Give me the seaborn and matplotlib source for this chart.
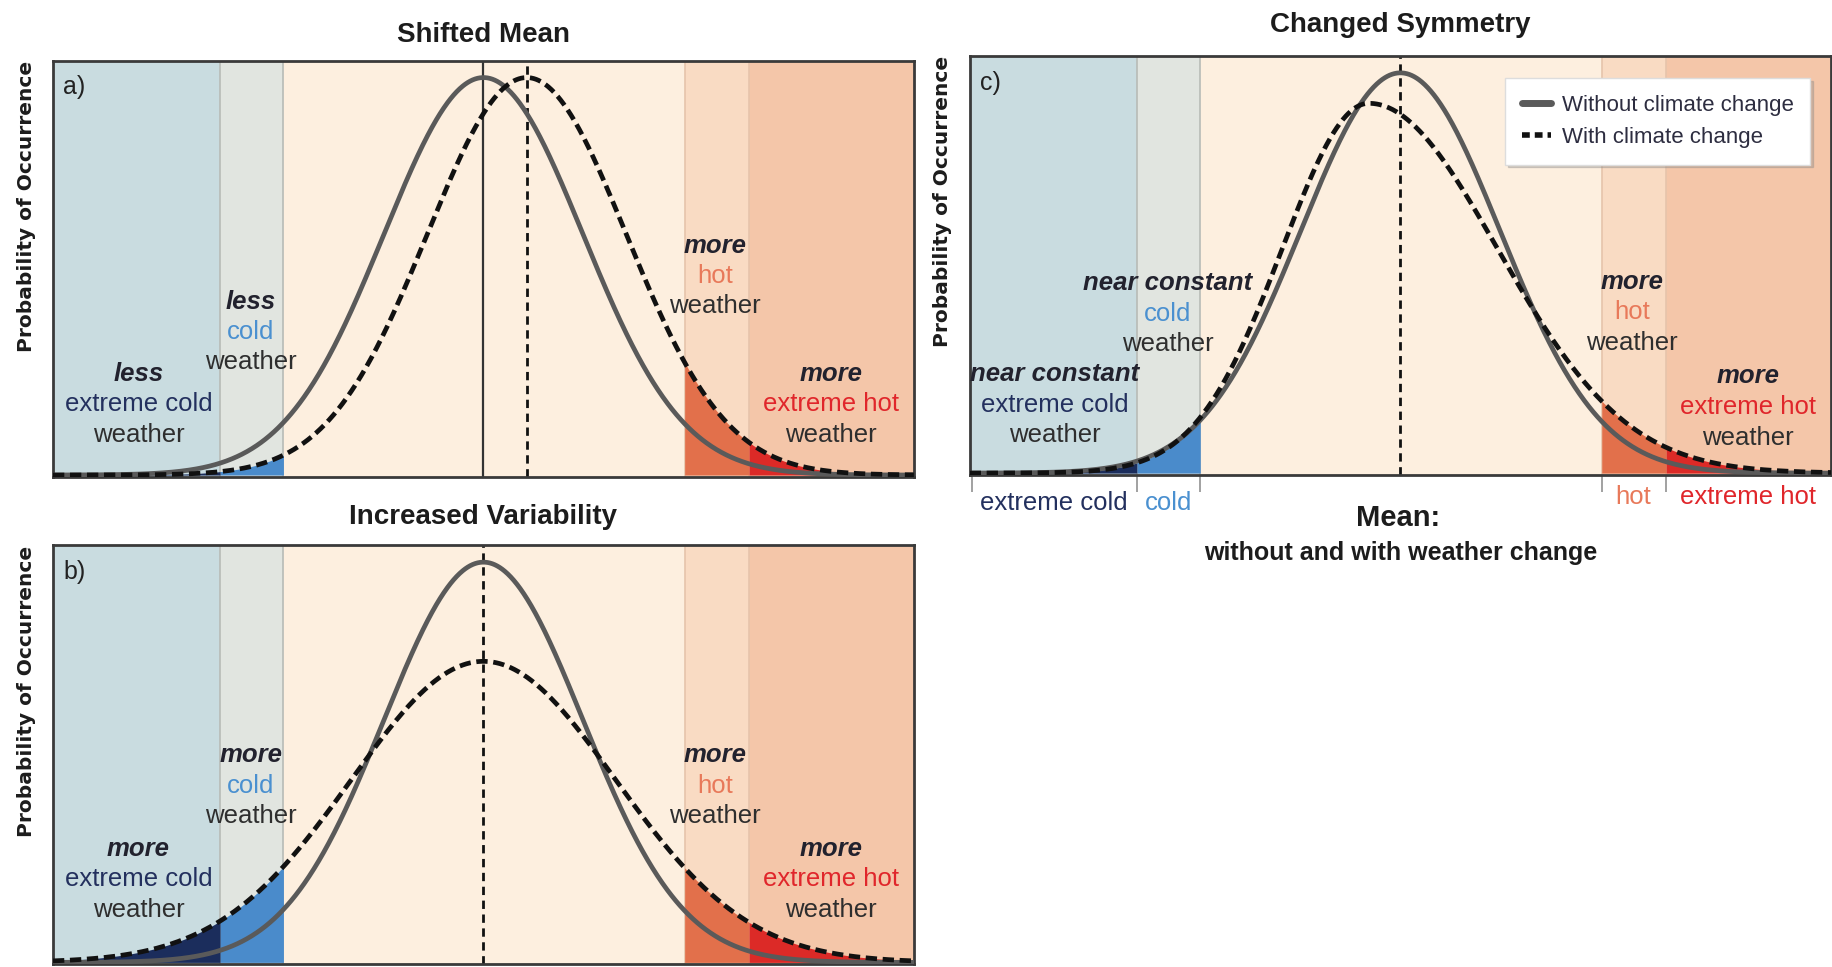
import math
import numpy as np
import pandas as pd
import seaborn as sns
import matplotlib.pyplot as plt
from matplotlib.lines import Line2D

# VALUES (x in temperature units, 0 = mean)
x_range = [-3.68, 3.68]
band_edges = [-2.25, -1.71, 1.72, 2.27]
band_names = ["extreme cold", "cold", "hot", "extreme hot"]

base_mean = 0.0
base_sd = 0.85
shift_mean = 0.37            # a) shifted mean
wide_sd = 1.13               # b) increased variability
skew_mode = -0.27            # c) changed symmetry
skew_sd_left = 0.74
skew_sd_right = 1.10
y_max = 0.489

words_a = ["less", "less", "more", "more"]
words_b = ["more", "more", "more", "more"]
words_c = ["near constant", "near constant", "more", "more"]

# COLOURS
band_colors = ["#c9dce0", "#e1e5e0", "#fdefdf", "#f9dbc3", "#f4c6a9"]
fill_colors = ["#1b2d5c", "#4a8bcb", "#e2704b", "#dc2a27"]
name_colors = ["#23305e", "#4a90d0", "#e8795a", "#e0262b"]
solid_col = "#5a5a5a"
dash_col = "#111111"

sns.set_theme(style="white")
plt.rcParams["font.family"] = ["Liberation Sans", "DejaVu Sans"]


def normal_pdf(x, mu, sd):
    return np.exp(-0.5 * ((x - mu) / sd) ** 2) / (sd * math.sqrt(2 * math.pi))


def split_pdf(x, mode, sl, sr):
    sd = np.where(x < mode, sl, sr)
    return 2 / (math.sqrt(2 * math.pi) * (sl + sr)) * np.exp(-0.5 * ((x - mode) / sd) ** 2)


def draw_panel(ax, dashed_fn, letter, title, title_y, words, tops, show_ticks=False):
    lims = [x_range[0]] + band_edges + [x_range[1]]
    for i in range(5):
        ax.axvspan(lims[i], lims[i + 1], color=band_colors[i], lw=0, zorder=0)
    for i, e in enumerate(band_edges):
        ax.axvline(e, color="#b7bbb7" if i < 2 else "#e6c4ab", lw=1.2, zorder=0.5)

    # shaded tails under the "with climate change" curve
    for i in range(4):
        xs = np.linspace(lims[i if i < 2 else i + 1], lims[i + 1 if i < 2 else i + 2], 200)
        ax.fill_between(xs, 0, dashed_fn(xs), color=fill_colors[i], lw=0, zorder=1)

    x = np.linspace(x_range[0], x_range[1], 1400)
    df = pd.DataFrame({
        "x": np.concatenate([x, x]),
        "y": np.concatenate([normal_pdf(x, base_mean, base_sd), dashed_fn(x)]),
        "curve": ["without"] * len(x) + ["with"] * len(x),
    })
    sns.lineplot(data=df, x="x", y="y", hue="curve", style="curve",
                 palette={"without": solid_col, "with": dash_col},
                 dashes={"without": "", "with": (2.4, 1.2)},
                 linewidth=3.4, legend=False, ax=ax, zorder=3)

    ax.set_xlim(x_range)
    ax.set_ylim(-0.002, y_max)
    ax.set_xlabel("")
    ax.set_ylabel("")
    ax.set_yticks([])
    if show_ticks:
        ax.set_xticks([x_range[0] + 0.02] + band_edges)
        ax.tick_params(axis="x", bottom=True, length=12, width=1.3, color="#9a9a9a",
                       labelbottom=False, direction="out")
    else:
        ax.set_xticks([])
    for s in ax.spines.values():
        s.set_color("#3a3a3a")
        s.set_linewidth(2)
        s.set_visible(True)

    ax.text(0.012, 0.965, letter, transform=ax.transAxes, ha="left", va="top",
            fontsize=18, color="#222222")
    ax.text(-0.031, 1.0, "Probability of Occurrence", transform=ax.transAxes,
            rotation=90, ha="center", va="top", fontsize=14.5, fontweight="bold",
            family="DejaVu Sans", color="#1c1c1c")
    ax.text(0.5, title_y, title, transform=ax.transAxes, ha="center", va="center",
            fontsize=20, fontweight="bold", color="#1c1c1c")

    group_x = [-2.95, -1.99, 1.98, 2.97]
    gap = 0.073
    for i in range(4):
        t = ax.get_xaxis_transform()
        ax.text(group_x[i], tops[i], words[i], transform=t, ha="center", va="center",
                fontsize=18.5, fontweight="bold", style="italic", color="#22222e", zorder=5)
        ax.text(group_x[i], tops[i] - gap, band_names[i], transform=t, ha="center",
                va="center", fontsize=18.5, color=name_colors[i], zorder=5)
        ax.text(group_x[i], tops[i] - 2 * gap, "weather", transform=t, ha="center",
                va="center", fontsize=18.5, color="#2e2e2e", zorder=5)


fig = plt.figure(figsize=(18.33, 9.67), dpi=100)
ax_a = fig.add_axes([0.0289, 0.507, 0.4697, 0.430])
ax_b = fig.add_axes([0.0289, 0.003, 0.4697, 0.433])
ax_c = fig.add_axes([0.529, 0.509, 0.470, 0.433])

# a) shifted mean
draw_panel(ax_a, lambda v: normal_pdf(v, shift_mean, base_sd), "a)", "Shifted Mean", 1.063,
           words_a, [0.247, 0.421, 0.556, 0.247])
ax_a.axvline(base_mean, color="#333333", lw=1.6, zorder=2)
ax_a.axvline(shift_mean, color=dash_col, lw=2, ls=(0, (3, 2)), zorder=2)

# b) increased variability
draw_panel(ax_b, lambda v: normal_pdf(v, base_mean, wide_sd), "b)", "Increased Variability", 1.068,
           words_b, [0.276, 0.499, 0.499, 0.276])
ax_b.axvline(base_mean, color=dash_col, lw=2, ls=(0, (3, 2)), zorder=2)

# c) changed symmetry
draw_panel(ax_c, lambda v: split_pdf(v, skew_mode, skew_sd_left, skew_sd_right), "c)",
           "Changed Symmetry", 1.075, words_c, [0.240, 0.458, 0.461, 0.235], show_ticks=True)
ax_c.axvline(base_mean, color=dash_col, lw=2, ls=(0, (3, 2)), zorder=2)

below_x = [-2.96, -1.98, 1.99, 2.97]
below_y = [-0.067, -0.067, -0.053, -0.053]
for i in range(4):
    ax_c.text(below_x[i], below_y[i], band_names[i], transform=ax_c.get_xaxis_transform(),
              ha="center", va="center", fontsize=18.5, color=name_colors[i])
ax_c.text(-0.02, -0.103, "Mean:", transform=ax_c.get_xaxis_transform(), ha="center",
          va="center", fontsize=21, fontweight="bold", color="#1c1c1c")
ax_c.text(0.0, -0.187, "without and with weather change", transform=ax_c.get_xaxis_transform(),
          ha="center", va="center", fontsize=18, fontweight="bold", color="#1c1c1c")

handles = [Line2D([], [], color=solid_col, lw=5),
           Line2D([], [], color=dash_col, lw=4, ls=(0, (1.4, 0.9)))]
leg = ax_c.legend(handles, ["Without climate change", "With climate change"],
                  loc="upper right", bbox_to_anchor=(0.976, 0.947), borderaxespad=0,
                  fontsize=16, handlelength=1.3, handletextpad=0.5, borderpad=0.75,
                  labelspacing=0.5, frameon=True, fancybox=False, framealpha=1,
                  edgecolor="#dddddd", shadow={"color": "#888888", "alpha": 0.35})
for t in leg.get_texts():
    t.set_color("#2d2d40")

fig.savefig("out.png", dpi=100, facecolor="white")
